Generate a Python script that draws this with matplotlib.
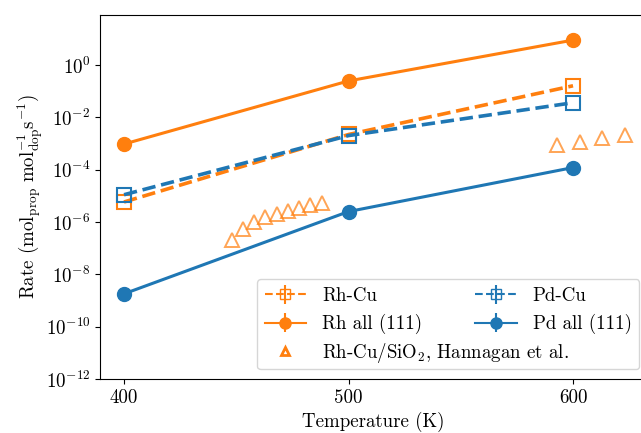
import numpy as np
import matplotlib
matplotlib.use("Agg")
import matplotlib.pyplot as plt

plt.rcParams['font.family'] = ['cmr10', 'DejaVu Serif']
plt.rcParams['mathtext.fontset'] = 'cm'
plt.rcParams['axes.formatter.use_mathtext'] = True
plt.rcParams['font.size'] = 13.6

temps = [400, 500, 600]
rh_cu = [5.8e-6, 2.2e-3, 0.16]
pd_cu = [1.1e-5, 2.0e-3, 0.036]
rh_all = [9.5e-4, 0.245, 8.9]
pd_all = [1.8e-9, 2.5e-6, 1.2e-4]
hann_T = [448, 453, 458, 463, 468, 473, 478, 483, 488, 593, 603, 613, 623]
hann_rate = [2.1e-7, 5.5e-7, 1.0e-6, 1.5e-6, 2.0e-6, 2.6e-6, 3.4e-6, 4.6e-6,
             5.5e-6, 8.9e-4, 1.17e-3, 1.6e-3, 2.1e-3]
yticks = [1e-12, 1e-10, 1e-8, 1e-6, 1e-4, 1e-2, 1e0]
xticks = [400, 500, 600]
labels = ['Rh-Cu', 'Rh all (111)', r'Rh-Cu/SiO$_2$, Hannagan et al.',
          'Pd-Cu', 'Pd all (111)']

orange = '#ff7f0e'
blue = '#1f77b4'

fig = plt.figure(figsize=(6.41, 4.33), dpi=100)
ax = fig.add_axes([100/641, 1-379/433, 546/641, 364/433])

ax.plot(temps, rh_cu, '--', color=orange, lw=2.6, marker='s', ms=10,
        mfc='none', mec=orange, mew=1.5, zorder=3)
ax.plot(temps, pd_cu, '--', color=blue, lw=2.6, marker='s', ms=10,
        mfc='none', mec=blue, mew=1.5, zorder=3)
ax.plot(temps, rh_all, '-', color=orange, lw=2.2, marker='o', ms=10, zorder=3)
ax.plot(temps, pd_all, '-', color=blue, lw=2.2, marker='o', ms=10, zorder=3)
ax.plot(hann_T, hann_rate, ls='none', marker='^', ms=10.5, mfc='none',
        mec=orange, mew=1.4, alpha=0.7, zorder=3)

# legend proxies
nan = [np.nan]
h1 = ax.errorbar(nan, nan, yerr=[nan], fmt='--s', color=orange, mfc='none', ms=7, lw=1.5)
h2 = ax.errorbar(nan, nan, yerr=[nan], fmt='--s', color=blue, mfc='none', ms=7, lw=1.5)
h3 = ax.errorbar(nan, nan, yerr=[nan], fmt='-o', color=orange, ms=8, lw=1.5)
h4 = ax.errorbar(nan, nan, yerr=[nan], fmt='-o', color=blue, ms=8, lw=1.5)
h5, = ax.plot(nan, nan, ls='none', marker='^', color=orange, mfc='none', ms=6, mew=2)

ax.set_yscale('log')
ax.set_ylim(1e-12, 81)
ax.set_xlim(389.3, 632.5)
ax.set_yticks(yticks)
ax.yaxis.set_minor_locator(matplotlib.ticker.NullLocator())
ax.set_xticks(xticks)
ax.set_xticklabels([str(t) for t in xticks])

ax.set_xlabel('Temperature (K)')
ax.set_ylabel(r'Rate $(\mathrm{mol_{prop}\ mol_{dop}^{-1} s^{-1}})$', labelpad=0.5)

leg = ax.legend([h1, h3, h5, h2, h4],
                [labels[0], labels[1], '', labels[3], labels[4]],
                ncol=2, loc='lower right', handlelength=2.2, handletextpad=0.85,
                columnspacing=2.8,
                bbox_to_anchor=(639.3/641, 1-369.3/433), bbox_transform=fig.transFigure,
                borderaxespad=0, fontsize=13.6)

# the long third label spans into the empty second-column slot
fig.canvas.draw()
t = leg.get_texts()[2]
px, py = t.get_transform().transform(t.get_position())
fx, fy = fig.transFigure.inverted().transform((px, py))
fig.text(fx, fy, labels[2], ha='left', va='baseline', fontsize=13.6, zorder=10)

fig.savefig('out.png', dpi=100)
